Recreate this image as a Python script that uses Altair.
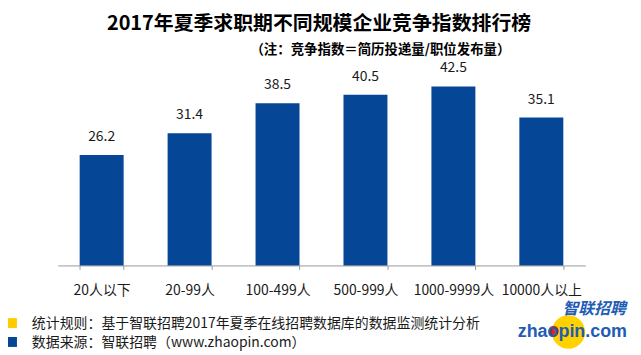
import altair as alt
import pandas as pd

categories = ["20人以下", "20-99人", "100-499人", "500-999人", "1000-9999人", "10000人以上"]
values = [26.2, 31.4, 38.5, 40.5, 42.5, 35.1]

title_text = "2017年夏季求职期不同规模企业竞争指数排行榜"
subtitle_text = "（注：竞争指数＝简历投递量/职位发布量）"
footer1 = "统计规则：基于智联招聘2017年夏季在线招聘数据库的数据监测统计分析"
footer2 = "数据来源：智联招聘（www.zhaopin.com）"

FONT = "Noto Sans CJK SC"
BLUE = "#064696"
YELLOW = "#FFCC00"

df = pd.DataFrame({"cat": categories, "val": values})
one = pd.DataFrame({"a": [0]})

x_enc = alt.X("cat:N", sort=categories, title=None,
              scale=alt.Scale(paddingInner=0.5, paddingOuter=0.25),
              axis=alt.Axis(labelAngle=0, labelFont=FONT, labelFontSize=14,
                            labelColor="#1a1a1a", domainColor="#999999",
                            tickColor="#999999", tickSize=4, tickBand="extent",
                            labelPadding=14, grid=False))
y_enc = alt.Y("val:Q", title=None, scale=alt.Scale(domain=[0, 50]), axis=None)

bars = alt.Chart(df).mark_bar(color=BLUE).encode(x=x_enc, y=y_enc)
labels = alt.Chart(df).mark_text(font=FONT, fontSize=14, color="#1a1a1a",
                                 baseline="middle", dy=-18).encode(
    x=alt.X("cat:N", sort=categories), y="val:Q", text=alt.Text("val:Q", format=".1f"))

def txt(x, y, s, size, weight="normal", align="left", color="#1a1a1a", font=FONT, style="normal"):
    return alt.Chart(one).mark_text(font=font, fontSize=size, fontWeight=weight,
                                    align=align, baseline="middle", color=color,
                                    fontStyle=style).encode(
        x=alt.value(x), y=alt.value(y), text=alt.value(s))

title = txt(263, -31, title_text, 20, "bold", "center", "#000000")
subtitle = txt(194, -5, subtitle_text, 13.5, "bold", "left", "#000000")
f1 = txt(-26, 271, footer1, 14)
f2 = txt(-26, 290, footer2, 14)

sq1 = alt.Chart(one).mark_square(size=100, color=YELLOW, opacity=1).encode(
    x=alt.value(-46), y=alt.value(270))
sq2 = alt.Chart(one).mark_square(size=100, color=BLUE, opacity=1).encode(
    x=alt.value(-46), y=alt.value(289))

logo_circle = alt.Chart(one).mark_circle(size=1130, color="#FFD200", opacity=1).encode(
    x=alt.value(514), y=alt.value(279))
logo_dot = alt.Chart(one).mark_circle(size=110, color="#D8261C", opacity=1).encode(
    x=alt.value(499), y=alt.value(278))
logo_cn = txt(540, 256, "智联招聘", 16, "bold", "center", "#1F5CB4", style="italic")
logo_en = txt(518, 279, "zhaopin.com", 18, "bold", "center", "#1F5CB4",
              font="Liberation Sans")

chart = alt.layer(
    bars, labels, title, subtitle, sq1, sq2, f1, f2,
    logo_circle, logo_dot, logo_en, logo_cn
).properties(
    width=531, height=212,
    autosize=alt.AutoSizeParams(type="none"),
    padding={"left": 50, "top": 46, "right": 48, "bottom": 85},
    background="white"
).configure_view(stroke=None)

chart.save("out.html", embed_options={"renderer": "svg", "actions": False})
